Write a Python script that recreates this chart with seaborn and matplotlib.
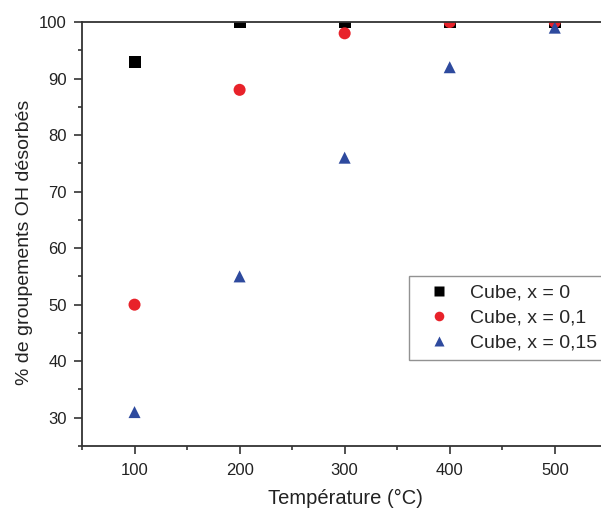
import matplotlib
matplotlib.use("Agg")
import matplotlib.pyplot as plt
import seaborn as sns
import pandas as pd
from matplotlib.ticker import MultipleLocator

temperature = [100, 200, 300, 400, 500]
cube_x0 = [93, 100, 100, 100, 100]
cube_x01 = [50, 88, 98, 100, 100]
cube_x015 = [31, 55, 76, 92, 99]
labels = ["Cube, x = 0", "Cube, x = 0,1", "Cube, x = 0,15"]

rows = []
for lab, vals in zip(labels, [cube_x0, cube_x01, cube_x015]):
    for t, v in zip(temperature, vals):
        rows.append({"T": t, "val": v, "serie": lab})
df = pd.DataFrame(rows)

sns.set_style("ticks")
plt.rcParams['font.family'] = ['Liberation Sans', 'DejaVu Sans']

fig = plt.figure(figsize=(6.01, 5.09), dpi=100)
ax = fig.add_axes([82/601, 1-446/509, 1-82/601, (446-22)/509])

palette = {labels[0]: "#000000", labels[1]: "#e8222a", labels[2]: "#2e4a9e"}
markers = {labels[0]: "s", labels[1]: "o", labels[2]: "^"}
sns.scatterplot(data=df, x="T", y="val", hue="serie", style="serie",
                palette=palette, markers=markers, s=75, edgecolor="none",
                ax=ax, legend=True)

ax.set_xlim(50, 544)
ax.set_ylim(25, 100)
ax.xaxis.set_major_locator(MultipleLocator(100))
ax.xaxis.set_minor_locator(MultipleLocator(50))
ax.yaxis.set_major_locator(MultipleLocator(10))
ax.yaxis.set_minor_locator(MultipleLocator(5))
ax.tick_params(which="major", direction="out", length=6, width=1.2, labelsize=12, colors="#333333", labelcolor="#222222")
ax.tick_params(which="minor", direction="out", length=3, width=1.2, colors="#333333")
ax.tick_params(axis="x", pad=6)
ax.tick_params(axis="y", pad=5)
for side in ["left", "bottom", "top"]:
    ax.spines[side].set_color("#333333")
    ax.spines[side].set_linewidth(1.3)
    ax.spines[side].set_visible(True)
ax.spines["right"].set_visible(False)

ax.set_xlabel("Température (°C)", fontsize=14.5, color="#222222")
ax.set_ylabel("% de groupements OH désorbés", fontsize=14, color="#222222")
ax.xaxis.set_label_coords((345 - 82) / (601 - 82), -(489 - 446) / (446 - 22))
ax.yaxis.set_label_coords(-(82 - 33) / (601 - 82), (446 - 242) / (446 - 22))

leg = ax.legend(loc="upper left", bbox_to_anchor=(409/601, 1-276/509),
                bbox_transform=fig.transFigure, fontsize=14, frameon=True,
                fancybox=False, edgecolor="#777777", borderaxespad=0,
                borderpad=0.42, handletextpad=0.5, labelspacing=0.38,
                markerscale=0.8, handlelength=2.2)
leg.get_frame().set_linewidth(1.0)

fig.savefig("out.png", dpi=100)
